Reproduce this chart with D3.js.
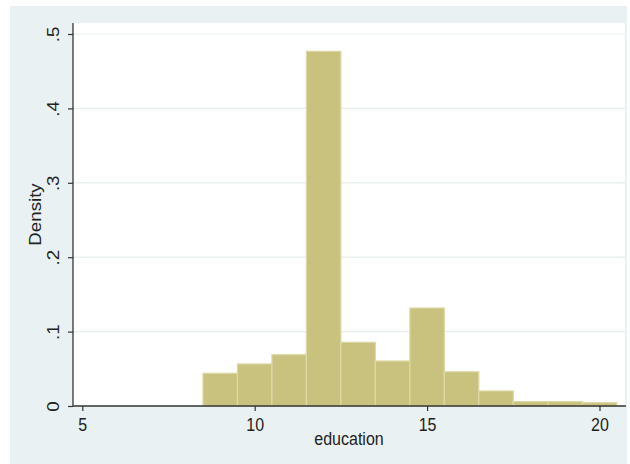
<!DOCTYPE html>
<html>
<head>
<meta charset="utf-8">
<script src="https://cdn.jsdelivr.net/npm/d3@7"></script>
<style>
  html, body { margin: 0; padding: 0; background: #ffffff; }
  svg { display: block; }
  text { font-family: "Liberation Sans", Arial, sans-serif; fill: #222; }
</style>
</head>
<body>
<script>
// Histogram of years of education (density scale, bin width 1)
const binStarts = [8.5, 9.5, 10.5, 11.5, 12.5, 13.5, 14.5, 15.5, 16.5, 17.5, 18.5, 19.5];
const binWidth = 1;
const densities = [0.044, 0.0565, 0.069, 0.4767, 0.0856, 0.0605, 0.1317, 0.046, 0.0202, 0.006, 0.006, 0.0045];
const xTicks = [5, 10, 15, 20];
const yTicks = [0, 0.1, 0.2, 0.3, 0.4, 0.5];
const yTickLabels = ["0", ".1", ".2", ".3", ".4", ".5"];
const xTitle = "education";
const yTitle = "Density";

const W = 630, H = 464;
const plot = { left: 73, right: 625, top: 23, bottom: 406 };
const stretch = 1.17; // vertical stretch applied to text glyphs

const svg = d3.select("body").append("svg").attr("width", W).attr("height", H);

// outer graph region
svg.append("rect").attr("x", 10).attr("y", 6).attr("width", 617).attr("height", H - 6)
  .attr("fill", "#eaf1f3");

// plot region
svg.append("rect").attr("x", plot.left).attr("y", plot.top)
  .attr("width", plot.right - plot.left).attr("height", plot.bottom - plot.top)
  .attr("fill", "#ffffff");

const x = d3.scaleLinear().domain([4.73, 20.74]).range([plot.left, plot.right]);
const y = d3.scaleLinear().domain([0, 0.5148]).range([plot.bottom, plot.top]);

// horizontal gridlines
svg.append("g").selectAll("line").data(yTicks.filter(d => d > 0)).join("line")
  .attr("x1", plot.left).attr("x2", plot.right)
  .attr("y1", d => y(d)).attr("y2", d => y(d))
  .attr("stroke", "#e6eef0").attr("stroke-width", 1.2);

// bars
const bins = binStarts.map((s, i) => ({ x0: s, x1: s + binWidth, v: densities[i] }));
svg.append("g").selectAll("rect").data(bins).join("rect")
  .attr("x", d => x(d.x0))
  .attr("width", d => x(d.x1) - x(d.x0))
  .attr("y", d => y(d.v))
  .attr("height", d => y(0) - y(d.v))
  .attr("fill", "#c9c27e")
  .attr("stroke", "#ddd8a6")
  .attr("stroke-width", 1.2);

// y axis
const yAxis = d3.axisLeft(y).tickValues(yTicks).tickSize(5).tickFormat((d, i) => yTickLabels[i]);
const gy = svg.append("g").attr("transform", `translate(${plot.left},0)`).call(yAxis);
gy.select(".domain").attr("d", `M0,${plot.top}V${plot.bottom}`).attr("stroke", "#333").attr("stroke-width", 1.3);
gy.selectAll(".tick line").attr("stroke", "#333").attr("stroke-width", 1.2);
gy.selectAll(".tick text")
  .attr("x", null).attr("dy", null)
  .attr("transform", `translate(-14,0) scale(1,${stretch}) rotate(-90)`)
  .attr("text-anchor", "middle")
  .style("font-size", "16px").attr("fill", "#222");

// x axis
const xAxis = d3.axisBottom(x).tickValues(xTicks).tickSize(5).tickFormat(d3.format("d"));
const gx = svg.append("g").attr("transform", `translate(0,${plot.bottom})`).call(xAxis);
gx.select(".domain").attr("d", `M${plot.left},0H${plot.right + 1}`).attr("stroke", "#333").attr("stroke-width", 1.4);
gx.selectAll(".tick line").attr("stroke", "#333").attr("stroke-width", 1.2);
gx.selectAll(".tick text")
  .attr("y", null).attr("dy", null)
  .attr("transform", `translate(0,25) scale(1,${stretch})`)
  .attr("text-anchor", "middle")
  .style("font-size", "16px").attr("fill", "#222");
svg.selectAll(".tick text").attr("font-family", null);
gx.attr("font-family", null); gy.attr("font-family", null);

// axis titles
svg.append("text")
  .attr("transform", `translate(${(plot.left + plot.right) / 2},${445}) scale(1,${stretch})`)
  .attr("text-anchor", "middle").style("font-size", "16px").text(xTitle);
svg.append("text")
  .attr("transform", `translate(${41},${(plot.top + plot.bottom) / 2}) scale(1,${stretch}) rotate(-90)`)
  .attr("text-anchor", "middle").style("font-size", "16px").text(yTitle);
</script>
</body>
</html>
